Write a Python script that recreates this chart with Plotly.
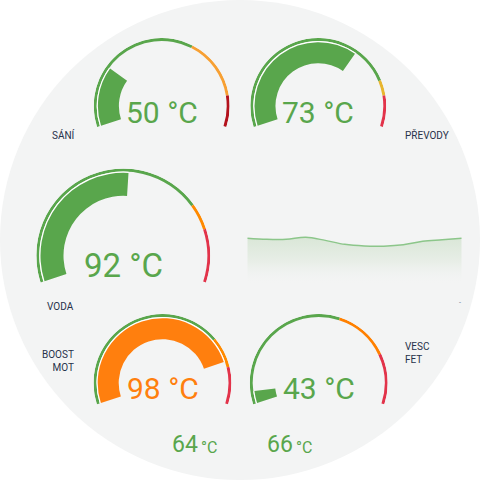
import plotly.graph_objects as go

# gauge data
labels = ["SÁNÍ", "PŘEVODY", "VODA", "BOOST<br>MOT", "VESC<br>FET"]
values = [50, 73, 92, 98, 43]
mins = [30, 20, 30, 30, 40]
maxs = [110, 100, 150, 112, 100]
warn = [80, 85, 120, 90, 75]      # green -> middle colour
crit = [100, 90, 130, 100, 88]    # middle -> red
mid_colors = ["#f7a033", "#e8b52f", "#ff8a00", "#ff8a00", "#ff8000"]
crit_colors = ["#b3121c", "#e2334a", "#e2334a", "#e2334a", "#e2334a"]

# small readouts at the bottom
bottom_values = [64, 66]

# history sparkline
history = [62.3, 60.9, 60.9, 63.6, 59.5, 54.2, 52.0, 51.8, 53.6, 58.2, 60.2, 62.3]

GREEN = "#59a64c"
TEXT = "#27324a"
SWEEP = 216

# layout geometry (px): centre x, centre y, outer radius, bar width
geom = [(161.7, 106, 68, 21), (318.3, 106, 68, 21), (123.3, 255.6, 87, 23),
        (162.5, 383, 69, 21), (318.7, 383, 69, 21)]
text_dy = [7, 7, 10, 5, 5]
text_size = [30, 30, 33, 30, 30]
label_pos = [(77, 135, "right"), (403, 135, "left"), (76, 306, "right"),
             (76, 361, "right"), (403, 353, "left")]

fig = go.Figure()
W = H = 480


def frac(v, lo, hi):
    return max(0.0, min(1.0, (v - lo) / (hi - lo)))


annotations = []
for i in range(5):
    cx, cy, R, bw = geom[i]
    sp = "polar" if i == 0 else f"polar{i + 1}"
    lo, hi = mins[i], maxs[i]
    # coloured outer ring
    edges = [lo, warn[i], crit[i], hi]
    cols = [GREEN, mid_colors[i], crit_colors[i]]
    th, wd = [], []
    for a, b in zip(edges[:-1], edges[1:]):
        fa, fb = frac(a, lo, hi), frac(b, lo, hi)
        th.append((fa + fb) / 2 * SWEEP)
        wd.append((fb - fa) * SWEEP)
    fig.add_trace(go.Barpolar(r=[3] * 3, base=[R - 3] * 3, theta=th, width=wd,
                              marker=dict(color=cols, line=dict(width=0)),
                              subplot=sp, hoverinfo="skip"))
    v = values[i]
    fv = frac(v, lo, hi)
    if v < warn[i]:
        vc = GREEN
    elif v < crit[i]:
        vc = mid_colors[i]
    else:
        vc = crit_colors[i]
    if i == 3:
        vc = "#ff7f0e"
    # white gap + value bar
    fig.add_trace(go.Barpolar(r=[1.2], base=[R - 4.2], theta=[fv * SWEEP / 2], width=[fv * SWEEP],
                              marker=dict(color="white", line=dict(width=0)),
                              subplot=sp, hoverinfo="skip"))
    fig.add_trace(go.Barpolar(r=[bw], base=[R - 4.2 - bw], theta=[fv * SWEEP / 2], width=[fv * SWEEP],
                              marker=dict(color=vc, line=dict(width=0)),
                              subplot=sp, hoverinfo="skip"))
    polar = dict(
        domain=dict(x=[(cx - R) / W, (cx + R) / W], y=[(H - cy - R) / H, (H - cy + R) / H]),
        bgcolor="rgba(0,0,0,0)", hole=0,
        radialaxis=dict(range=[0, R], visible=False, showgrid=False, showline=False),
        angularaxis=dict(rotation=198, direction="clockwise", visible=False,
                         showgrid=False, showline=False, showticklabels=False),
    )
    fig.update_layout(**{sp: polar})
    annotations.append(dict(x=cx / W, y=1 - (cy + text_dy[i]) / H, xref="paper", yref="paper",
                            text=f"{v} °C", showarrow=False, xanchor="center", yanchor="middle",
                            font=dict(size=text_size[i], color=vc, family="Roboto")))
    lx, ly, anc = label_pos[i]
    annotations.append(dict(x=lx / W, y=1 - ly / H, xref="paper", yref="paper",
                            text=labels[i], showarrow=False, xanchor=anc, yanchor="middle",
                            align=anc, font=dict(size=10, color=TEXT, family="Roboto")))

# bottom readouts
for x0, bv in zip([170, 265], bottom_values):
    annotations.append(dict(x=x0 / W, y=1 - 444 / H, xref="paper", yref="paper",
                            text=f"{bv}", showarrow=False, xanchor="left", yanchor="middle",
                            font=dict(size=23, color=GREEN, family="Roboto")))
    annotations.append(dict(x=(x0 + 29) / W, y=1 - 447.5 / H, xref="paper", yref="paper",
                            text="°C", showarrow=False, xanchor="left", yanchor="middle",
                            font=dict(size=16, color=GREEN, family="Roboto")))

annotations.append(dict(x=463 / W, y=1 - 303 / H, xref="paper", yref="paper", text="-",
                        showarrow=False, font=dict(size=7, color="#6a7a9a", family="Roboto")))

# sparkline
fig.add_trace(go.Scatter(x=list(range(len(history))), y=history, mode="lines",
                         line=dict(color="#8cc68a", width=1.5, shape="spline"),
                         fill="tozeroy",
                         fillgradient=dict(type="vertical", start=0, stop=62,
                                           colorscale=[[0, "rgba(243,244,244,0)"],
                                                       [0.5, "rgba(232,238,231,1)"],
                                                       [1, "rgba(218,231,216,1)"]]),
                         xaxis="x", yaxis="y", hoverinfo="skip"))

fig.update_layout(
    width=W, height=H,
    margin=dict(l=0, r=0, t=0, b=0),
    paper_bgcolor="white", plot_bgcolor="rgba(0,0,0,0)",
    showlegend=False,
    xaxis=dict(domain=[247.3 / W, 461.7 / W], range=[0, len(history) - 1], visible=False),
    yaxis=dict(domain=[1 - 285 / H, 1 - 225 / H], range=[0, 80], visible=False),
    shapes=[dict(type="circle", xref="paper", yref="paper", x0=0, y0=0, x1=1, y1=1,
                 fillcolor="#f3f4f4", line=dict(width=0), layer="below")],
    annotations=annotations,
    font=dict(family="Roboto"),
)

fig.write_html("out.html", config={"displayModeBar": False},
               post_script="document.body.style.margin='0';document.body.style.overflow='hidden';")
